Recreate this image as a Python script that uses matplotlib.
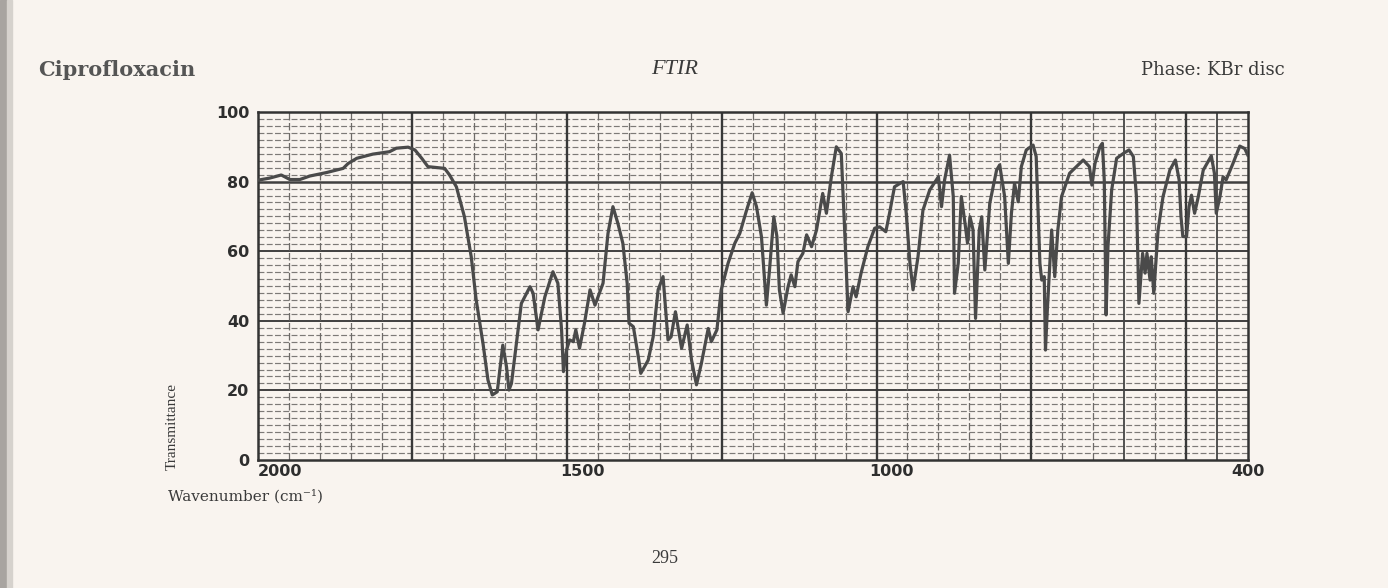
import numpy as np
import matplotlib
matplotlib.use("Agg")
import matplotlib.pyplot as plt
from matplotlib.patches import Rectangle
from matplotlib.transforms import ScaledTranslation

# spectrum (wavenumber in cm-1, transmittance in %)
wavenumber = [2000, 1981, 1962, 1948, 1932, 1916, 1889, 1862, 1854, 1840,
              1814, 1787, 1776, 1757, 1746, 1735, 1725, 1698, 1690, 1679,
              1666, 1655, 1647, 1636, 1628, 1621, 1613, 1604, 1598, 1594,
              1590, 1582, 1574, 1560, 1555, 1547, 1536, 1523, 1515, 1509,
              1506, 1501, 1496, 1490, 1486, 1480, 1472, 1463, 1455, 1447,
              1442, 1434, 1426, 1418, 1410, 1403, 1400, 1393, 1385, 1381,
              1369, 1361, 1353, 1345, 1337, 1332, 1325, 1315, 1306, 1299,
              1291, 1283, 1272, 1267, 1258, 1251, 1240, 1229, 1221, 1210,
              1201, 1194, 1186, 1178, 1173, 1166, 1161, 1157, 1151, 1143,
              1138, 1132, 1127, 1119, 1113, 1105, 1097, 1087, 1081, 1073,
              1065, 1057, 1052, 1046, 1038, 1033, 1025, 1014, 1003, 995,
              985, 979, 971, 962, 957, 952, 946, 941, 933, 925,
              914, 900, 895, 890, 882, 876, 874, 868, 863, 857,
              853, 849, 844, 840, 834, 830, 825, 817, 806, 801,
              793, 787, 782, 777, 771, 766, 758, 747, 742, 736,
              733, 729, 727, 724, 717, 712, 707, 701, 688, 666,
              656, 652, 647, 639, 635, 632, 629, 626, 620, 612,
              601, 592, 585, 580, 576, 570, 566, 563, 558, 556,
              552, 545, 537, 526, 517, 511, 508, 505, 499, 495,
              491, 486, 480, 472, 459, 454, 451, 445, 440, 435,
              424, 413, 405, 400]
transmittance = [80.4, 81.0, 81.9, 80.6, 80.6, 81.6, 82.6, 83.8, 85.2, 86.7,
                 87.9, 88.6, 89.6, 89.9, 89.1, 86.7, 84.3, 83.8, 81.9, 78.5,
                 69.9, 58.4, 46.0, 33.5, 23.0, 18.7, 19.6, 33.0, 26.8, 20.1,
                 22.0, 33.5, 45.0, 49.8, 47.9, 37.4, 46.9, 54.1, 50.8, 37.4,
                 25.4, 31.6, 34.5, 34.0, 37.4, 32.1, 39.3, 48.9, 44.5, 48.4,
                 50.8, 65.1, 72.8, 68.0, 62.3, 50.8, 39.3, 38.3, 29.7, 24.9,
                 28.7, 35.4, 48.9, 52.7, 34.5, 35.4, 42.6, 32.1, 38.8, 28.7,
                 21.6, 27.8, 37.8, 34.0, 37.4, 48.9, 56.5, 62.3, 65.1, 71.8,
                 76.8, 72.8, 64.2, 44.5, 54.6, 69.9, 64.2, 48.9, 42.2, 49.8,
                 53.2, 49.8, 57.0, 59.4, 64.7, 61.3, 66.1, 76.6, 70.9, 81.4,
                 90.0, 88.1, 68.0, 42.6, 49.8, 46.9, 53.7, 61.3, 66.6, 67.0,
                 65.6, 70.9, 78.5, 79.5, 80.0, 70.9, 56.5, 48.9, 58.4, 71.8,
                 77.6, 81.4, 72.8, 80.5, 87.6, 75.7, 47.9, 56.5, 75.7, 68.0,
                 62.3, 69.9, 66.1, 40.7, 66.1, 69.9, 54.6, 73.8, 83.3, 84.8,
                 75.7, 56.5, 70.9, 79.5, 74.2, 84.3, 89.1, 90.5, 87.2, 56.5,
                 51.7, 52.7, 31.6, 43.1, 66.1, 52.7, 66.1, 75.7, 82.4, 86.2,
                 84.3, 79.0, 85.2, 90.0, 91.0, 80.5, 41.7, 61.3, 77.6, 86.7,
                 88.1, 89.1, 87.2, 75.7, 45.0, 59.4, 53.7, 59.4, 51.7, 58.4,
                 47.9, 66.1, 75.7, 83.3, 86.2, 80.5, 69.9, 64.2, 64.2, 72.8,
                 76.1, 70.9, 75.7, 83.3, 87.4, 82.4, 70.9, 75.7, 81.4, 80.5,
                 85.2, 90.2, 89.5, 87.6]

xticks = [2000, 1500, 1000, 400]
yticks = [0, 20, 40, 60, 80, 100]

paper = '#f9f4ef'
ink = '#3a3a3a'

fig = plt.figure(figsize=(13.88, 5.88), dpi=100, facecolor=paper)
ax = fig.add_axes([0.1857, 0.2177, 0.7133, 0.5918])
ax.set_facecolor(paper)

# scanned page edge on the left
fig.patches.append(Rectangle((0, 0), 0.005, 1, transform=fig.transFigure,
                             color='#a8a4a0', zorder=0))
fig.patches.append(Rectangle((0.005, 0), 0.004, 1, transform=fig.transFigure,
                             color='#d6d2cd', zorder=0))

# chart-paper grid
for yy in np.arange(2, 100, 2):
    if yy % 20 == 0:
        ax.axhline(yy, color='#404040', lw=1.4 if yy != 80 else 1.8, zorder=1)
    else:
        ax.axhline(yy, color='#7d7a77', lw=0.85, ls=(0, (5, 2)), zorder=1)
for xx in np.arange(1950, 400, -50):
    if xx % 250 == 0:
        ax.axvline(xx, color='#383838', lw=1.7, zorder=1)
    elif xx in (600, 450):
        ax.axvline(xx, color='#444444', lw=1.3, zorder=1)
    else:
        ax.axvline(xx, color='#6e6b68', lw=0.9, ls=(0, (6, 2)), zorder=1)

ax.plot(wavenumber, transmittance, color='#4a4a4a', lw=2.3, zorder=3,
        solid_joinstyle='round')

ax.set_xlim(2000, 400)
ax.set_ylim(0, 100)
for s in ax.spines.values():
    s.set_color('#333333')
    s.set_linewidth(1.8)

ax.set_yticks(yticks)
ax.set_yticklabels([str(v) for v in yticks])
ax.set_xticks(xticks)
ax.set_xticklabels([str(v) for v in xticks])
ax.tick_params(length=0, colors='#2e2e2e', labelsize=11.5)
ax.tick_params(axis='y', pad=6)
ax.tick_params(axis='x', pad=3)
for lab in ax.get_xticklabels() + ax.get_yticklabels():
    lab.set_fontweight('heavy')
xl = ax.get_xticklabels()
for i, lab in enumerate(xl[:3]):
    lab.set_ha('left')
    if i > 0:
        lab.set_transform(lab.get_transform() +
                          ScaledTranslation(-7 / 100, 0, fig.dpi_scale_trans))

fig.text(0.0274, 0.881, 'Ciprofloxacin', family='DejaVu Serif',
         weight='bold', fontsize=15, color='#555555', va='center', ha='left')
fig.text(0.486, 0.881, 'FTIR', family='Liberation Serif', style='italic',
         fontsize=16, color=ink, va='center', ha='center')
fig.text(0.9258, 0.881, 'Phase: KBr disc', family='DejaVu Serif',
         fontsize=13, color=ink, va='center', ha='right')
fig.text(0.124, 0.20, 'Transmittance', family='Liberation Serif',
         fontsize=11, color=ink, rotation=90, va='bottom', ha='center')
fig.text(0.121, 0.155, 'Wavenumber (cm\u207b\u00b9)', family='DejaVu Serif',
         fontsize=11, color=ink, va='center', ha='left')
fig.text(0.479, 0.051, '295', family='Liberation Serif', fontsize=13,
         color=ink, va='center', ha='center')

fig.savefig('out.png', dpi=100, facecolor=paper)
